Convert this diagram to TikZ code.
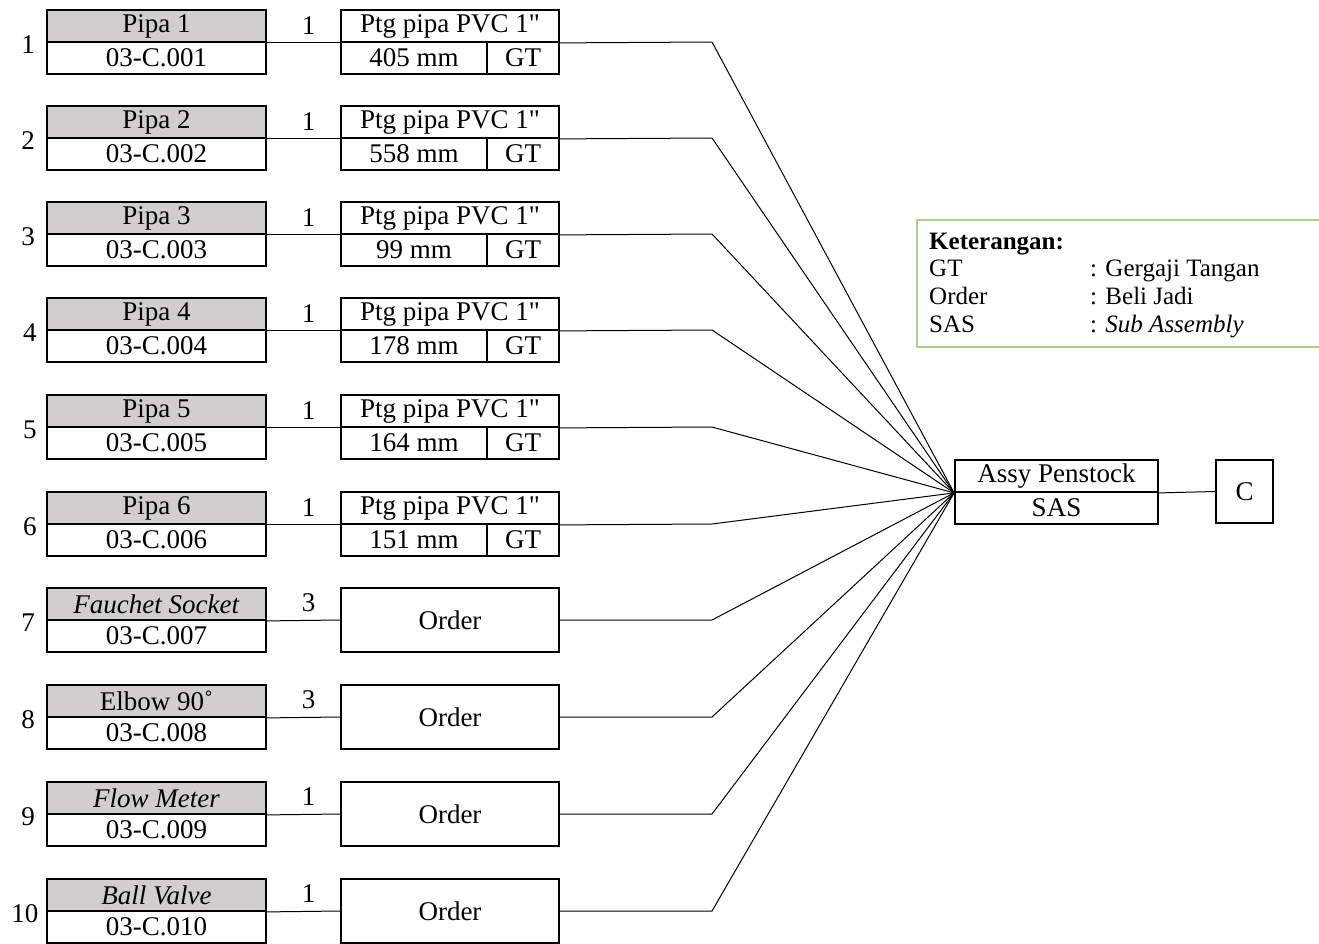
\documentclass[tikz,border=0pt]{standalone}
\usepackage{fontspec}
\setmainfont{Liberation Serif}[Ligatures=TeXOff]
\definecolor{cellgray}{HTML}{D0CECE}
\definecolor{leggreen}{HTML}{A9D08E}
\begin{document}
\begin{tikzpicture}[x=1pt,y=-1pt,
  font=\fontsize{27}{30}\selectfont,
  box/.style={draw, line width=1.8pt, inner sep=0pt, minimum height=32pt},
  namebox/.style={box, fill=cellgray, minimum width=219pt},
  codebox/.style={box, fill=white, minimum width=219pt},
  ptgbox/.style={box, minimum width=218pt},
  lenbox/.style={box, minimum width=146pt},
  toolbox/.style={box, minimum width=72pt},
  orderbox/.style={box, minimum width=218pt, minimum height=64pt},
  conn/.style={line width=1pt},
  lbl/.style={inner sep=0pt},
  legtxt/.style={inner sep=0pt, anchor=base west, font=\fontsize{25}{28}\selectfont}]
\useasboundingbox (0,0) rectangle (1319,943);
% assembly and final
\node[box, minimum width=203pt] (At) at (1056.5,476) {Assy Penstock};
\node[box, minimum width=203pt] (Ab) at (1056.5,508) {SAS};
\node[box, minimum width=57pt, minimum height=63pt] (C) at (1244.5,491.5) {C};
\draw[conn] (At.south east) -- (C.west);
% rows 1-6
\foreach \i/\t/\len/\rx in {1/10/405 mm/28, 2/106/558 mm/28, 3/202/99 mm/28, 4/298/178 mm/30, 5/395/164 mm/30, 6/492/151 mm/30}{
  \node[namebox] (N\i) at (156.5,\t+16) {Pipa \i};
  \node[codebox] (K\i) at (156.5,\t+48) {03-C.00\i};
  \node[ptgbox] (P\i) at (450,\t+16) {Ptg pipa PVC 1"};
  \node[lenbox] (D\i) at (414,\t+48) {\len};
  \node[toolbox] (G\i) at (523,\t+48) {GT};
  \node[lbl] (R\i) at (\rx,\t+35) {\i};
  \coordinate (B\i) at (712,\t+32);
  \draw[conn] (N\i.south east) -- node[lbl, above=8pt, pos=0.57] (Q\i) {1} (P\i.south west);
  \draw[conn] (P\i.south east) -- (B\i) -- (At.south west);
}
% rows 7-10
\foreach \i/\t/\nm/\code/\q/\rx in {7/588/\textit{Fauchet Socket}/007/3/28, 8/685/Elbow 90˚/008/3/28, 9/782/\textit{Flow Meter}/009/1/28, 10/879/\textit{Ball Valve}/010/1/25}{
  \node[namebox] (N\i) at (156.5,\t+16) {\nm};
  \node[codebox] (K\i) at (156.5,\t+48) {03-C.\code};
  \node[orderbox] (O\i) at (450,\t+32) {Order};
  \node[lbl] (R\i) at (\rx,\t+35) {\i};
  \coordinate (B\i) at (712,\t+32);
  \draw[conn] (N\i.south east) -- node[lbl, above=8pt, pos=0.57] (Q\i) {\q} (O\i.west);
  \draw[conn] (O\i.east) -- (B\i) -- (At.south west);
}
% legend
\draw[leggreen, line width=1.5pt] (1325,220) -- (917,220) -- (917,347) -- (1325,347);
\node[legtxt, font=\fontsize{25}{28}\selectfont\bfseries] (L0) at (929,249) {Keterangan:};
\node[legtxt] (L1) at (929,276) {GT};
\node[legtxt] (L2) at (929,304) {Order};
\node[legtxt] (L3) at (929,332) {SAS};
\node[legtxt] (L1b) at (1090,276) {: Gergaji Tangan};
\node[legtxt] (L2b) at (1090,304) {: Beli Jadi};
\node[legtxt] (L3b) at (1090,332) {: \textit{Sub Assembly}};
\end{tikzpicture}
\end{document}
